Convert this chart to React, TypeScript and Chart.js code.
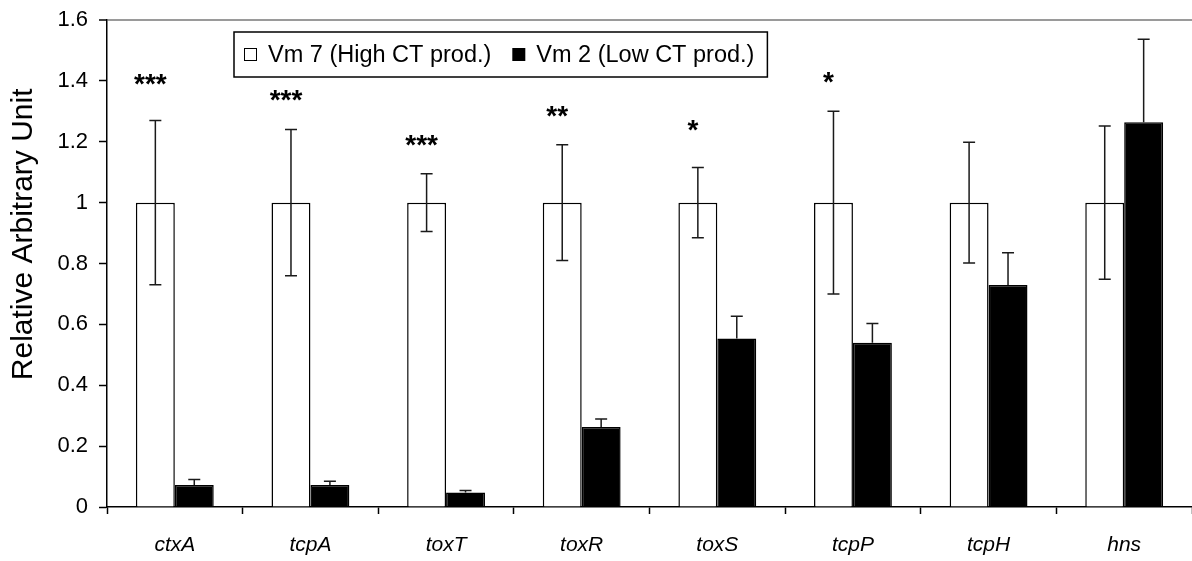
import React, { useEffect, useRef } from "react";
import { Chart, registerables } from "chart.js";

Chart.register(...registerables);

const categories = ["ctxA", "tcpA", "toxT", "toxR", "toxS", "tcpP", "tcpH", "hns"];
const seriesLabels = ["Vm 7 (High CT prod.)", "Vm 2 (Low CT prod.)"];
const vm7Values = [1, 1, 1, 1, 1, 1, 1, 1];
const vm7Errors = [0.27, 0.24, 0.095, 0.19, 0.115, 0.3, 0.198, 0.252];
const vm2Values = [0.072, 0.072, 0.048, 0.263, 0.554, 0.54, 0.729, 1.264];
const vm2Errors = [0.018, 0.013, 0.006, 0.026, 0.073, 0.063, 0.106, 0.273];
const starLabels = ["***", "***", "***", "**", "*", "*", "", ""];
const starLevels = [1.39, 1.337, 1.19, 1.285, 1.24, 1.396, 0, 0];
const yTicks = [0, 0.2, 0.4, 0.6, 0.8, 1, 1.2, 1.4, 1.6];
const yTitle = "Relative Arbitrary Unit";

const FONT = "'Liberation Sans', Arial, Helvetica, sans-serif";

const errorBarPlugin = {
  id: "errorBars",
  afterDatasetsDraw(chart: any) {
    const ctx = chart.ctx;
    const y = chart.scales.y;
    const cap = 6;
    ctx.save();
    ctx.strokeStyle = "#1a1a1a";
    ctx.lineWidth = 1.5;
    const m0 = chart.getDatasetMeta(0);
    const m1 = chart.getDatasetMeta(1);
    m0.data.forEach((bar: any, i: number) => {
      const x = bar.x;
      const top = y.getPixelForValue(vm7Values[i] + vm7Errors[i]);
      const bot = y.getPixelForValue(vm7Values[i] - vm7Errors[i]);
      ctx.beginPath();
      ctx.moveTo(x, top);
      ctx.lineTo(x, bot);
      ctx.moveTo(x - cap, top);
      ctx.lineTo(x + cap, top);
      ctx.moveTo(x - cap, bot);
      ctx.lineTo(x + cap, bot);
      ctx.stroke();
    });
    m1.data.forEach((bar: any, i: number) => {
      const x = bar.x;
      const top = y.getPixelForValue(vm2Values[i] + vm2Errors[i]);
      const base = y.getPixelForValue(vm2Values[i]);
      ctx.beginPath();
      ctx.moveTo(x, base);
      ctx.lineTo(x, top);
      ctx.moveTo(x - cap, top);
      ctx.lineTo(x + cap, top);
      ctx.stroke();
    });
    ctx.restore();
  },
};

const starPlugin = {
  id: "stars",
  afterDatasetsDraw(chart: any) {
    const ctx = chart.ctx;
    const y = chart.scales.y;
    const m0 = chart.getDatasetMeta(0);
    const size = 28;
    ctx.save();
    ctx.fillStyle = "#000";
    ctx.font = `bold ${size}px ${FONT}`;
    ctx.textAlign = "center";
    ctx.textBaseline = "alphabetic";
    starLabels.forEach((s, i) => {
      if (!s) return;
      const x = m0.data[i].x - 5;
      const yy = y.getPixelForValue(starLevels[i]) + size * 0.33;
      ctx.fillText(s, x, yy);
    });
    ctx.restore();
  },
};

const legendPlugin = {
  id: "boxLegend",
  afterDraw(chart: any) {
    const ctx = chart.ctx;
    const area = chart.chartArea;
    const left = area.left + 127;
    const top = area.top + 12;
    const height = 45;
    const size = 23.5;
    ctx.save();
    ctx.font = `${size}px ${FONT}`;
    const w0 = ctx.measureText(seriesLabels[0]).width;
    const w1 = ctx.measureText(seriesLabels[1]).width;
    const padL = 10;
    const padR = 13;
    const icon = 13;
    const gapIcon = 11;
    const gapItem = 21;
    const width = padL + icon + gapIcon + w0 + gapItem + icon + gapIcon + w1 + padR;
    ctx.fillStyle = "#fff";
    ctx.fillRect(left, top, width, height);
    ctx.strokeStyle = "#000";
    ctx.lineWidth = 1.5;
    ctx.strokeRect(left, top, width, height);
    const cy = top + height / 2;
    let x = left + padL;
    ctx.lineWidth = 1;
    ctx.fillStyle = "#fff";
    ctx.fillRect(x, cy - icon / 2, icon, icon);
    ctx.strokeRect(x + 0.5, cy - icon / 2 + 0.5, icon - 1, icon - 1);
    x += icon + gapIcon;
    ctx.fillStyle = "#000";
    ctx.textBaseline = "middle";
    ctx.textAlign = "left";
    ctx.fillText(seriesLabels[0], x, cy + 1);
    x += w0 + gapItem;
    ctx.fillRect(x, cy - icon / 2, icon, icon);
    x += icon + gapIcon;
    ctx.fillText(seriesLabels[1], x, cy + 1);
    ctx.restore();
  },
};

export default function App() {
  const ref = useRef<HTMLCanvasElement | null>(null);
  useEffect(() => {
    if (!ref.current) return;
    const chart = new Chart(ref.current, {
      type: "bar",
      data: {
        labels: categories,
        datasets: [
          {
            label: seriesLabels[0],
            data: vm7Values,
            backgroundColor: "#ffffff",
            borderColor: "#000000",
            borderWidth: 1.5,
          },
          {
            label: seriesLabels[1],
            data: vm2Values,
            backgroundColor: "#000000",
            borderColor: "#000000",
            borderWidth: 1.5,
          },
        ],
      },
      options: {
        animation: false,
        responsive: false,
        devicePixelRatio: 1,
        layout: { autoPadding: false, padding: { top: 20, right: -3, bottom: 0, left: 0 } },
        datasets: { bar: { categoryPercentage: 0.574, barPercentage: 1 } },
        plugins: {
          legend: { display: false },
          tooltip: { enabled: false },
        },
        scales: {
          x: {
            afterFit: (scale: any) => {
              scale.height = 54;
              scale.paddingLeft = 0;
              scale.paddingRight = 0;
            },
            grid: {
              display: true,
              offset: true,
              drawOnChartArea: false,
              drawTicks: true,
              tickLength: 7,
              tickColor: "#000",
              tickWidth: 1.5,
            },
            border: { display: true, color: "#000", width: 1.5 },
            ticks: {
              color: "#000",
              padding: 19,
              maxRotation: 0,
              font: { family: FONT, size: 21, style: "italic" },
            },
          },
          y: {
            min: 0,
            max: 1.6,
            afterFit: (scale: any) => {
              scale.width = 107;
              scale.paddingTop = 0;
              scale.paddingBottom = 0;
            },
            afterBuildTicks: (axis: any) => {
              axis.ticks = yTicks.map((v) => ({ value: v }));
            },
            grid: {
              drawOnChartArea: true,
              color: (c: any) => (c.tick && Math.abs(c.tick.value - 1.6) < 1e-6 ? "#9a9a9a" : "rgba(0,0,0,0)"),
              lineWidth: (c: any) => (c.tick && Math.abs(c.tick.value - 1.6) < 1e-6 ? 2 : 1),
              tickColor: "#000",
              tickLength: 8,
              tickWidth: 1.5,
            },
            border: { display: true, color: "#000", width: 1.5 },
            ticks: {
              color: "#000",
              padding: 11,
              font: { family: FONT, size: 22 },
              callback: (v: any) => String(Number(Number(v).toFixed(1))),
            },
            title: {
              display: true,
              text: "       " + yTitle,
              color: "#000",
              font: { family: FONT, size: 30 },
              padding: { top: 6, bottom: 14 },
            },
          },
        },
      },
      plugins: [errorBarPlugin, starPlugin, legendPlugin],
    });
    return () => chart.destroy();
  }, []);
  return (
    <div style={{ position: "fixed", left: 0, top: 0, width: 1192, height: 561, background: "#fff" }}>
      <canvas ref={ref} width={1192} height={561} style={{ display: "block", width: 1192, height: 561 }} />
    </div>
  );
}
